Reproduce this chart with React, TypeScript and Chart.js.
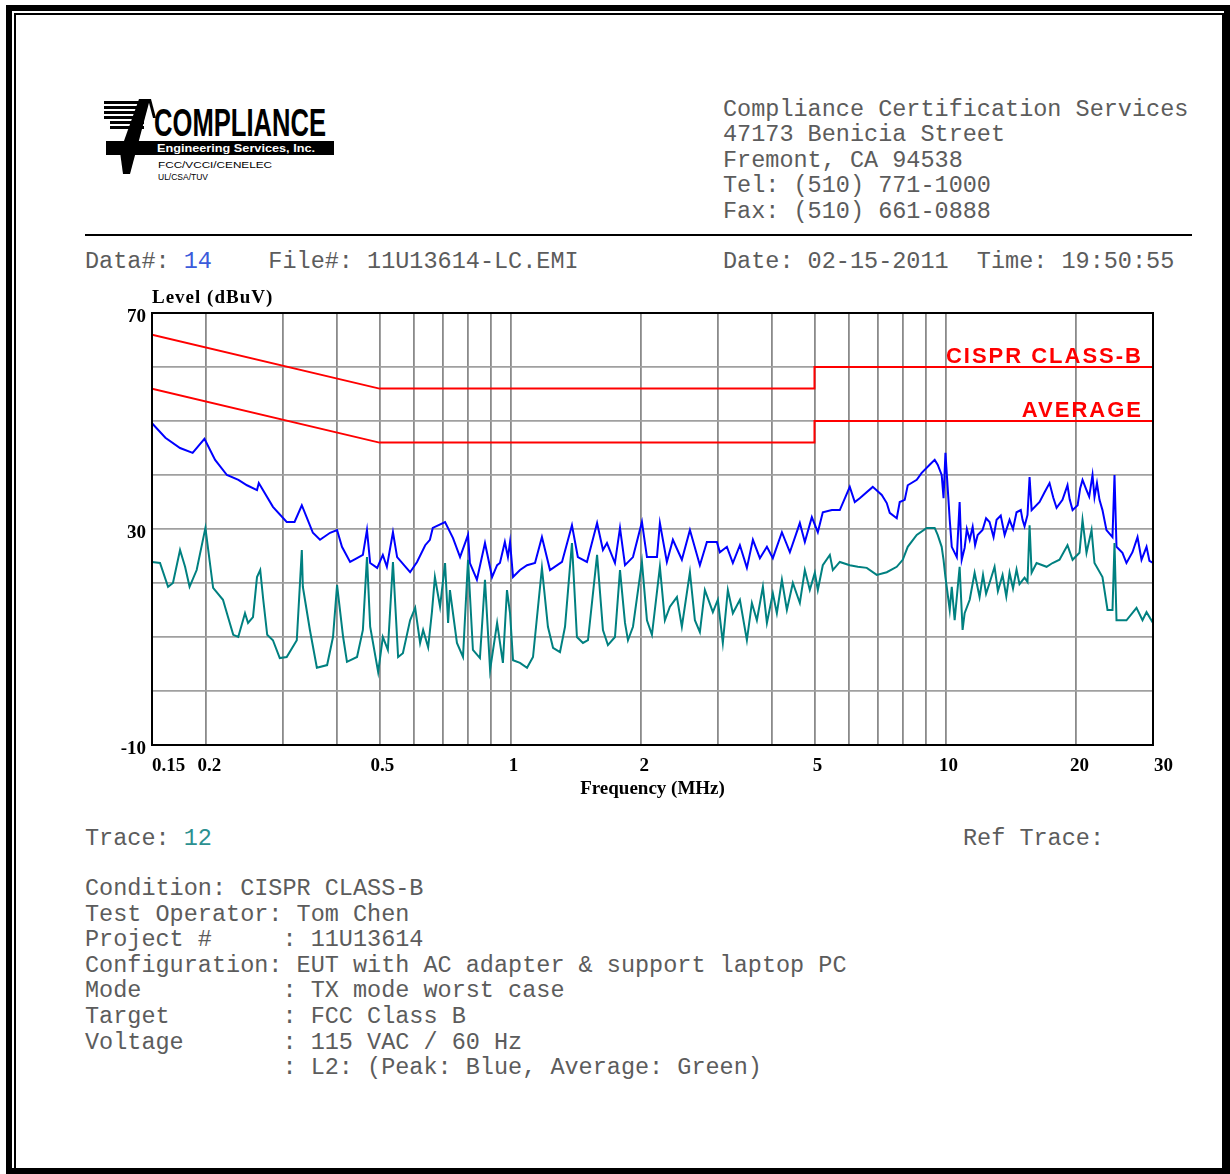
import React, { useEffect, useRef } from 'react';
import { Chart, registerables } from 'chart.js';

Chart.register(...registerables);

// ---- Data (frequency in MHz, level in dBuV) ----
const peakFreqMHz = [
  0.150, 0.161, 0.174, 0.186, 0.198, 0.2095, 0.223, 0.237, 0.248, 0.2615,
  0.264, 0.2845, 0.306, 0.319, 0.3315, 0.342, 0.3515, 0.365, 0.385, 0.3995,
  0.410, 0.428, 0.444, 0.458, 0.468, 0.476, 0.494, 0.509, 0.520, 0.537,
  0.549, 0.588, 0.610, 0.637, 0.653, 0.663, 0.7075, 0.738, 0.766, 0.799,
  0.807, 0.8375, 0.874, 0.9075, 0.932, 0.946, 0.971, 0.987, 0.998, 1.014,
  1.052, 1.092, 1.139, 1.1815, 1.233, 1.314, 1.385, 1.429, 1.4995, 1.582,
  1.632, 1.667, 1.739, 1.786, 1.834, 1.913, 2.006, 2.060, 2.172, 2.206,
  2.289, 2.363, 2.478, 2.586, 2.726, 2.829, 2.983, 3.030, 3.145, 3.246,
  3.369, 3.496, 3.609, 3.745, 3.887, 4.011, 4.208, 4.389, 4.627, 4.751,
  4.930, 5.089, 5.225, 5.481, 5.717, 6.027, 6.189, 6.354, 6.806, 7.139,
  7.330, 7.447, 7.728, 7.851, 8.061, 8.191, 8.590, 8.819, 9.200, 9.447,
  9.598, 9.803, 9.90, 10.0, 10.23, 10.34, 10.62, 10.78, 10.90, 11.07,
  11.2, 11.37, 11.55, 11.7, 11.86, 12.17, 12.4, 12.63, 12.9, 13.11,
  13.4, 13.68, 14.04, 14.3, 14.57, 14.9, 15.04, 15.2, 15.44, 15.61,
  15.78, 16.46, 16.9, 17.35, 17.7, 18.01, 18.58, 19.08, 19.3, 19.60,
  20.13, 20.4, 20.66, 21.10, 21.4, 21.78, 22.01, 22.3, 22.60, 22.96,
  23.45, 24.21, 24.47, 24.73, 25.52, 26.07, 26.91, 27.64, 28.23, 28.99,
  29.44, 30.0,
];
const peakLevelDbuV = [
  49.6, 46.9, 45.0, 44.1, 46.7, 42.8, 40.0, 39.1, 38.1, 37.2,
  38.5, 34.1, 31.3, 31.3, 34.4, 31.7, 29.3, 28.0, 29.3, 29.8,
  26.7, 23.9, 24.6, 25.2, 29.8, 23.7, 22.8, 25.2, 23.0, 29.4,
  24.8, 22.0, 23.9, 27.0, 28.0, 30.2, 31.3, 28.3, 24.8, 28.9,
  23.7, 20.6, 27.4, 21.1, 23.3, 23.7, 27.6, 24.8, 27.6, 21.1,
  22.4, 23.3, 23.7, 28.5, 22.4, 23.9, 30.7, 24.8, 23.9, 31.1,
  26.1, 27.4, 23.7, 30.2, 23.3, 24.8, 31.3, 24.8, 24.8, 31.1,
  23.9, 28.0, 24.3, 29.8, 23.3, 27.6, 27.6, 25.7, 26.7, 23.7,
  27.0, 22.8, 28.0, 24.6, 26.7, 24.6, 29.4, 25.7, 31.1, 27.6,
  32.2, 29.4, 33.1, 33.5, 33.5, 37.8, 35.0, 35.7, 37.8, 36.3,
  34.8, 33.0, 32.0, 35.0, 35.4, 38.1, 39.1, 40.4, 41.9, 42.8,
  41.9, 40.0, 35.7, 44.1, 31.7, 26.7, 24.8, 35.0, 24.3, 26.5,
  30.0, 28.0, 30.4, 27.0, 28.9, 29.8, 32.0, 31.3, 28.5, 31.7,
  32.5, 28.9, 31.7, 30.0, 33.1, 33.5, 31.7, 30.5, 32.6, 39.6,
  33.5, 35.0, 36.8, 38.5, 35.8, 33.9, 35.4, 38.1, 35.5, 33.5,
  34.4, 37.5, 39.1, 37.2, 36.0, 40.0, 35.9, 38.5, 35.4, 33.5,
  29.8, 28.5, 40.0, 26.7, 25.6, 23.7, 25.7, 28.5, 24.3, 26.7,
  24.1, 23.7,
];

const avgFreqMHz = [
  0.150, 0.1565, 0.1633, 0.1676, 0.174, 0.1787, 0.183, 0.190, 0.199, 0.2073,
  0.2184, 0.2243, 0.2306, 0.2368, 0.2454, 0.2494, 0.256, 0.2615, 0.266, 0.2703,
  0.276, 0.2845, 0.295, 0.306, 0.3228, 0.3315, 0.3333, 0.346, 0.359, 0.379,
  0.391, 0.3995, 0.4125, 0.421, 0.444, 0.458, 0.468, 0.476, 0.4966, 0.509,
  0.5227, 0.537, 0.5519, 0.566, 0.588, 0.604, 0.620, 0.630, 0.647, 0.660,
  0.6705, 0.689, 0.7075, 0.719, 0.726, 0.7535, 0.778, 0.799, 0.820, 0.851,
  0.874, 0.898, 0.932, 0.961, 0.982, 0.998, 1.014, 1.052, 1.092, 1.127,
  1.1815, 1.2196, 1.253, 1.300, 1.335, 1.385, 1.422, 1.468, 1.5076, 1.582,
  1.632, 1.6756, 1.739, 1.786, 1.834, 1.863, 1.913, 2.006, 2.060, 2.115,
  2.206, 2.265, 2.326, 2.414, 2.478, 2.586, 2.655, 2.726, 2.799, 2.920,
  2.998, 3.078, 3.161, 3.246, 3.369, 3.496, 3.590, 3.686, 3.805, 3.887,
  4.011, 4.097, 4.208, 4.320, 4.459, 4.627, 4.751, 4.878, 5.009, 5.089,
  5.225, 5.423, 5.510, 5.717, 6.027, 6.288, 6.594, 6.952, 7.330, 7.728,
  7.977, 8.191, 8.590, 9.056, 9.447, 9.598, 9.803, 9.90, 10.0, 10.23,
  10.34, 10.50, 10.78, 10.95, 11.07, 11.37, 11.67, 11.98, 12.2, 12.4,
  12.63, 12.97, 13.2, 13.53, 13.8, 14.04, 14.3, 14.57, 14.8, 15.20,
  15.44, 15.61, 15.78, 16.20, 17.08, 17.63, 18.29, 19.08, 19.60, 20.33,
  20.66, 21.10, 21.67, 22.01, 22.96, 23.58, 24.21, 24.47, 24.73, 26.07,
  27.49, 28.38, 28.99, 30.0,
];
const avgLevelDbuV = [
  23.9, 23.7, 19.3, 20.0, 26.1, 23.0, 19.3, 22.4, 30.2, 19.1,
  16.9, 13.7, 10.4, 10.0, 14.4, 12.6, 13.7, 21.1, 22.4, 16.9,
  10.4, 9.4, 6.1, 6.3, 9.4, 26.1, 19.3, 11.3, 4.3, 4.8,
  10.0, 19.6, 10.0, 5.4, 6.3, 11.3, 24.8, 11.9, 3.5, 10.0,
  7.6, 23.9, 6.3, 7.0, 13.1, 15.4, 8.9, 11.3, 8.1, 14.6,
  21.1, 15.6, 23.7, 12.6, 18.7, 8.9, 6.3, 24.3, 7.6, 6.1,
  20.6, 3.9, 12.6, 5.2, 18.7, 14.4, 5.7, 5.2, 4.3, 6.3,
  22.8, 11.9, 8.0, 7.2, 11.9, 27.4, 10.0, 8.9, 9.4, 25.2,
  11.3, 8.5, 10.0, 22.4, 12.6, 9.4, 11.9, 23.9, 13.1, 10.4,
  23.0, 13.1, 15.6, 17.4, 11.9, 22.0, 13.1, 10.9, 18.7, 14.6,
  16.9, 8.9, 18.7, 14.4, 16.9, 9.4, 16.3, 13.1, 19.3, 12.6,
  18.1, 14.4, 20.6, 15.0, 20.0, 16.3, 22.4, 18.7, 21.9, 18.7,
  23.3, 25.2, 22.4, 23.9, 23.3, 23.0, 22.8, 21.5, 22.0, 23.0,
  24.3, 26.7, 28.9, 30.2, 30.2, 28.9, 26.7, 24.3, 21.1, 15.0,
  19.3, 13.1, 23.0, 11.3, 14.4, 16.9, 21.9, 17.4, 21.5, 18.0,
  20.0, 23.0, 18.5, 21.5, 17.5, 21.9, 19.0, 22.5, 19.8, 21.0,
  20.2, 30.7, 21.9, 23.7, 23.0, 23.7, 24.3, 27.0, 24.3, 25.6,
  31.7, 25.6, 29.8, 23.7, 21.1, 15.0, 15.0, 27.4, 13.1, 13.1,
  15.4, 13.1, 14.6, 12.6,
];

const classBLimitFreqMHz = [0.15, 0.5, 5, 5, 30];
const classBLimitDbuV = [66, 56, 56, 60, 60];
const averageLimitFreqMHz = [0.15, 0.5, 5, 5, 30];
const averageLimitDbuV = [56, 46, 46, 50, 50];

const xGridMHz = [0.15, 0.2, 0.3, 0.4, 0.5, 0.6, 0.7, 0.8, 0.9, 1, 2, 3, 4, 5, 6, 7, 8, 9, 10, 20, 30];
const xLabelMHz = [0.15, 0.2, 0.5, 1, 2, 5, 10, 20, 30];
const yLabelDbuV = [70, 30, -10];

const limitNames = ['CISPR CLASS-B', 'AVERAGE'];

const toPoints = (xs: number[], ys: number[]) => xs.map((x, i) => ({ x, y: ys[i] }));

const SERIF = '"Liberation Serif", "Times New Roman", serif';
const MONO = '"Liberation Mono", "Courier New", monospace';

const decorPlugin = {
  id: 'decor',
  afterDatasetsDraw(chart: any) {
    const { ctx, chartArea, scales } = chart;
    const xs = scales.x;
    const ys = scales.y;
    ctx.save();
    // plot frame
    ctx.strokeStyle = '#000';
    ctx.lineWidth = 2;
    ctx.strokeRect(chartArea.left, chartArea.top, chartArea.right - chartArea.left, chartArea.bottom - chartArea.top);

    // limit labels
    ctx.fillStyle = '#ff0000';
    ctx.font = 'bold 22px "Liberation Sans", Arial, sans-serif';
    try { (ctx as any).letterSpacing = '2px'; } catch (e) {}
    ctx.textAlign = 'right';
    ctx.textBaseline = 'alphabetic';
    ctx.fillText(limitNames[0], chartArea.right - 10, ys.getPixelForValue(classBLimitDbuV[classBLimitDbuV.length - 1]) - 4);
    ctx.fillText(limitNames[1], chartArea.right - 10, ys.getPixelForValue(averageLimitDbuV[averageLimitDbuV.length - 1]) - 4);

    // y axis title (horizontal, above plot)
    ctx.fillStyle = '#000';
    try { (ctx as any).letterSpacing = '1px'; } catch (e) {}
    ctx.font = `bold 19px ${SERIF}`;
    ctx.textAlign = 'left';
    ctx.textBaseline = 'middle';
    ctx.fillText('Level (dBuV)', chartArea.left, chartArea.top - 15);

    // x tick labels
    try { (ctx as any).letterSpacing = '0px'; } catch (e) {}
    ctx.font = `bold 19px ${SERIF}`;
    ctx.textBaseline = 'middle';
    xLabelMHz.forEach((v, i) => {
      const px = xs.getPixelForValue(v);
      const last = i === xLabelMHz.length - 1;
      ctx.textAlign = i === 0 || last ? 'left' : 'center';
      ctx.fillText(String(v), px + (i === 0 ? 0 : last ? 1 : 3), chartArea.bottom + 21);
    });
    ctx.restore();
  },
};

const mono: React.CSSProperties = {
  position: 'absolute',
  fontFamily: MONO,
  fontSize: 23.5,
  color: '#5c5c5c',
  whiteSpace: 'pre',
  margin: 0,
};

export default function App() {
  const ref = useRef<HTMLCanvasElement>(null);

  useEffect(() => {
    if (!ref.current) return;
    const chart = new Chart(ref.current, {
      type: 'line',
      data: {
        datasets: [
          {
            label: 'Average',
            data: toPoints(avgFreqMHz, avgLevelDbuV),
            borderColor: '#008080',
            borderWidth: 2,
            pointRadius: 0,
            tension: 0,
          },
          {
            label: 'Peak',
            data: toPoints(peakFreqMHz, peakLevelDbuV),
            borderColor: '#0000ff',
            borderWidth: 2,
            pointRadius: 0,
            tension: 0,
          },
          {
            label: 'CISPR CLASS-B',
            data: toPoints(classBLimitFreqMHz, classBLimitDbuV),
            borderColor: '#ff0000',
            borderWidth: 2,
            pointRadius: 0,
            tension: 0,
          },
          {
            label: 'AVERAGE',
            data: toPoints(averageLimitFreqMHz, averageLimitDbuV),
            borderColor: '#ff0000',
            borderWidth: 2,
            pointRadius: 0,
            tension: 0,
          },
        ],
      },
      options: {
        responsive: false,
        animation: false,
        layout: { padding: { top: 28, right: 37, left: 0, bottom: 0 } },
        plugins: {
          legend: { display: false },
          tooltip: { enabled: false },
          title: { display: false },
        },
        scales: {
          x: {
            type: 'logarithmic',
            min: 0.15,
            max: 30,
            afterBuildTicks: (axis: any) => {
              axis.ticks = xGridMHz.map((v) => ({ value: v }));
            },
            afterFit: (axis: any) => {
              axis.height = 60;
            },
            grid: { color: '#8a8a8a', lineWidth: 1.8, drawTicks: false },
            border: { display: false },
            ticks: {
              autoSkip: false,
              maxRotation: 0,
              minRotation: 0,
              padding: 10,
              color: '#000',
              font: { family: SERIF, weight: 'bold', size: 19 },
              callback: () => '',
            },
            title: {
              display: true,
              text: 'Frequency (MHz)',
              color: '#000',
              font: { family: SERIF, weight: 'bold', size: 19 },
              padding: { top: 0, bottom: 5 },
            },
          },
          y: {
            type: 'linear',
            min: -10,
            max: 70,
            afterFit: (axis: any) => {
              axis.width = 92;
            },
            grid: { color: '#a0a0a0', lineWidth: 1.8, drawTicks: false },
            border: { display: false },
            ticks: {
              stepSize: 10,
              padding: 6,
              labelOffset: 4,
              color: '#000',
              font: { family: SERIF, weight: 'bold', size: 19 },
              callback: (v: any) => (yLabelDbuV.includes(Number(v)) ? String(v) : ''),
            },
          },
        },
      } as any,
      plugins: [decorPlugin],
    });
    return () => chart.destroy();
  }, []);

  return (
    <div style={{ position: 'absolute', left: 0, top: 0, width: 1230, height: 1174, background: '#fff', overflow: 'hidden' }}>
      <div style={{ position: 'absolute', left: 6, top: 5, width: 1224, height: 1169, border: '6px solid #000', boxSizing: 'border-box' }} />
      <div style={{ position: 'absolute', left: 14, top: 13, width: 1210, height: 1157, border: '2px solid #000', boxSizing: 'border-box' }} />

      {/* Logo */}
      <svg style={{ position: 'absolute', left: 95, top: 92, overflow: 'visible' }} width={250} height={95}>
        <g transform="translate(-95,-92)">
          {[101, 106, 111, 116, 121, 126].map((yy, i) => (
            <rect key={i} x={104 + (i > 3 ? 6 : 0)} y={yy} width={40 - (i > 3 ? 6 : 0)} height={3} fill="#000" />
          ))}
          <polygon points="139,99 150,99 130,174 123,174 120,152" fill="#000" />
          <polygon points="148,99 151,99 156,118 153,118" fill="#000" />
          <text x={154} y={136} fontFamily='"Liberation Sans", Arial, sans-serif' fontWeight="bold" fontSize={38}
            textLength={172} lengthAdjust="spacingAndGlyphs" fill="#000">COMPLIANCE</text>
          <rect x={106} y={141} width={228} height={14} fill="#000" />
          <text x={157} y={152} fontFamily='"Liberation Sans", Arial, sans-serif' fontWeight="bold" fontSize={11.5}
            textLength={158} lengthAdjust="spacingAndGlyphs" fill="#fff">Engineering Services, Inc.</text>
          <text x={158} y={168} fontFamily='"Liberation Sans", Arial, sans-serif' fontSize={9}
            textLength={114} lengthAdjust="spacingAndGlyphs" fill="#000">FCC/VCCI/CENELEC</text>
          <text x={158} y={180} fontFamily='"Liberation Sans", Arial, sans-serif' fontSize={9}
            textLength={50} lengthAdjust="spacingAndGlyphs" fill="#000">UL/CSA/TUV</text>
        </g>
      </svg>

      <div style={{ ...mono, left: 723, top: 97, lineHeight: '25.4px' }}>
        {'Compliance Certification Services\n47173 Benicia Street\nFremont, CA 94538\nTel: (510) 771-1000\nFax: (510) 661-0888'}
      </div>

      <div style={{ position: 'absolute', left: 85, top: 234, width: 1107, height: 2, background: '#000' }} />

      <div style={{ ...mono, left: 85, top: 249, lineHeight: '25.4px' }}>
        {'Data#: '}<span style={{ color: '#3b5bdb' }}>14</span>{'    File#: 11U13614-LC.EMI'}
      </div>
      <div style={{ ...mono, left: 723, top: 249, lineHeight: '25.4px' }}>
        {'Date: 02-15-2011  Time: 19:50:55'}
      </div>

      <canvas ref={ref} width={1130} height={520} style={{ position: 'absolute', left: 60, top: 285, width: 1130, height: 520 }} />

      <div style={{ ...mono, left: 85, top: 826, lineHeight: '25.4px' }}>
        {'Trace: '}<span style={{ color: '#2b9090' }}>12</span>
      </div>
      <div style={{ ...mono, left: 963, top: 826, lineHeight: '25.4px' }}>{'Ref Trace:'}</div>

      <div style={{ ...mono, left: 85, top: 876, lineHeight: '25.6px' }}>
        {'Condition: CISPR CLASS-B\nTest Operator: Tom Chen\nProject #     : 11U13614\nConfiguration: EUT with AC adapter & support laptop PC\nMode          : TX mode worst case\nTarget        : FCC Class B\nVoltage       : 115 VAC / 60 Hz\n              : L2: (Peak: Blue, Average: Green)'}
      </div>
    </div>
  );
}
